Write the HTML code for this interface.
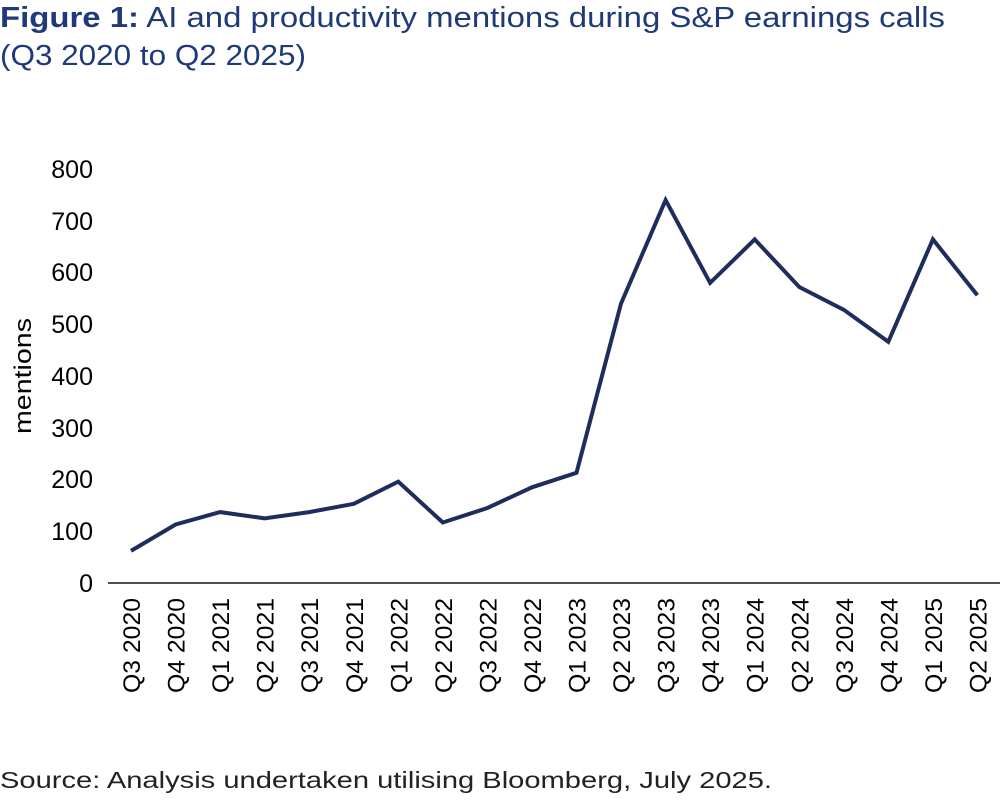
<!DOCTYPE html>
<html><head><meta charset="utf-8"><style>
body{margin:0;background:#fff;width:1000px;height:803px;overflow:hidden}
</style></head><body>
<svg width="1000" height="803" xmlns="http://www.w3.org/2000/svg" font-family="Liberation Sans, sans-serif">
<text x="0" y="27" font-size="29" fill="#1f3a7a" textLength="945" lengthAdjust="spacingAndGlyphs"><tspan font-weight="bold">Figure 1:</tspan> AI and productivity mentions during S&amp;P earnings calls</text>
<text x="0" y="65" font-size="29" fill="#1f3a7a" textLength="306" lengthAdjust="spacingAndGlyphs">(Q3 2020 to Q2 2025)</text>
<g font-size="25" fill="#000" text-anchor="end">
<text x="93" y="592">0</text>
<text x="93" y="540">100</text>
<text x="93" y="488">200</text>
<text x="93" y="437">300</text>
<text x="93" y="385">400</text>
<text x="93" y="333">500</text>
<text x="93" y="281">600</text>
<text x="93" y="230">700</text>
<text x="93" y="178">800</text>
</g>
<text transform="translate(31,376) rotate(-90)" font-size="24" text-anchor="middle" textLength="116" lengthAdjust="spacingAndGlyphs">mentions</text>
<line x1="108" y1="583" x2="1000" y2="583" stroke="#4a4f5c" stroke-width="2"/>
<g font-size="24" text-anchor="end" id="xl"></g>
<polyline id="pl" fill="none" stroke="#1f2d5c" stroke-width="4" stroke-linejoin="miter" points=""/>
<text x="0" y="788" font-size="23" fill="#222" textLength="772" lengthAdjust="spacingAndGlyphs">Source: Analysis undertaken utilising Bloomberg, July 2025.</text>
</svg>
<script>
var v=[62,113,137,125,137,153,196,117,145,185,213,540,740,580,664,572,528,466,664,556];
var l=["Q3 2020","Q4 2020","Q1 2021","Q2 2021","Q3 2021","Q4 2021","Q1 2022","Q2 2022","Q3 2022","Q4 2022","Q1 2023","Q2 2023","Q3 2023","Q4 2023","Q1 2024","Q2 2024","Q3 2024","Q4 2024","Q1 2025","Q2 2025"];
var p=[],g=document.getElementById('xl'),h='';
for(var i=0;i<20;i++){var x=131+44.55*i;p.push(x.toFixed(1)+','+(583-v[i]*0.5175).toFixed(1));
h+='<text transform="translate('+(x+9)+',598) rotate(-90)" textLength="95" lengthAdjust="spacingAndGlyphs">'+l[i]+'</text>';}
g.innerHTML=h;document.getElementById('pl').setAttribute('points',p.join(' '));
</script>
</body></html>
